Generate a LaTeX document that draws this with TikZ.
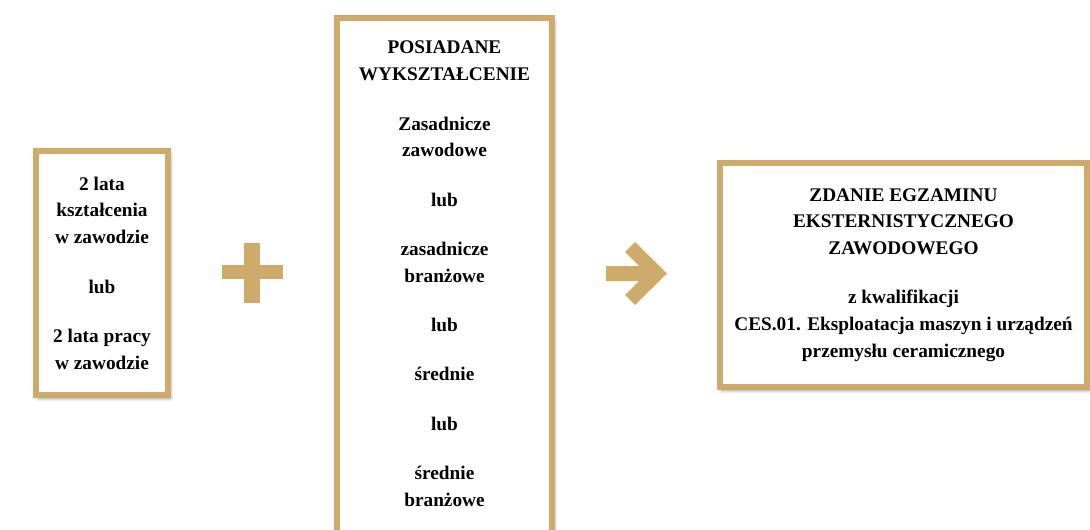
\documentclass[tikz,border=0pt]{standalone}
\usepackage{fontspec}
\setmainfont{Liberation Serif}
\usetikzlibrary{positioning}
\usetikzlibrary{shadows.blur}

\definecolor{gold}{RGB}{207,171,107}

\begin{document}
\begin{tikzpicture}[
    x=1pt, y=-1pt,
    txt/.style={font=\bfseries\fontsize{19.3}{26.8}\selectfont, align=center, inner sep=0pt},
    box/.style={draw=gold, line width=6pt, fill=white, txt,
        blur shadow={shadow xshift=2pt, shadow yshift=-3pt, shadow blur radius=4pt,
            shadow blur steps=8, shadow opacity=40}},
    sign/.style={fill=gold, draw=none}
]
    \useasboundingbox (0,0) rectangle (1090,530);

    % boxes
    \node[box, minimum width=132pt, minimum height=244pt] (staz) at (102,273)
        {2 lata\\kształcenia\\w zawodzie\\[22.5pt]lub\\[22.5pt]2 lata pracy\\w zawodzie};
    \node[box, anchor=north, minimum width=215pt, minimum height=545pt] (wyksztalcenie) at (444.5,15) {};
    \node[txt, below=26pt of wyksztalcenie.north] (wykszTxt)
        {POSIADANE\\WYKSZTAŁCENIE\\[22.5pt]Zasadnicze\\zawodowe\\[22.5pt]lub\\[22.5pt]zasadnicze\\branżowe\\[22.5pt]lub\\[22.5pt]średnie\\[22.5pt]lub\\[22.5pt]średnie\\branżowe};
    \node[box, minimum width=367pt, minimum height=224pt] (egzamin) at (903.5,275)
        {ZDANIE EGZAMINU\\EKSTERNISTYCZNEGO\\ZAWODOWEGO\\[22.5pt]z kwalifikacji\\CES.01. Eksploatacja maszyn i urządzeń\\przemysłu ceramicznego};

    % plus
    \fill[sign] (244,243) rectangle (260,303);
    \fill[sign] (222,265) rectangle (283,279);

    % arrow
    \fill[sign] (606,266) -- (639,266) -- (625,252) -- (635,242) -- (667,273.5)
        -- (635,305) -- (625,295) -- (639,281) -- (606,281) -- cycle;

\end{tikzpicture}
\end{document}
